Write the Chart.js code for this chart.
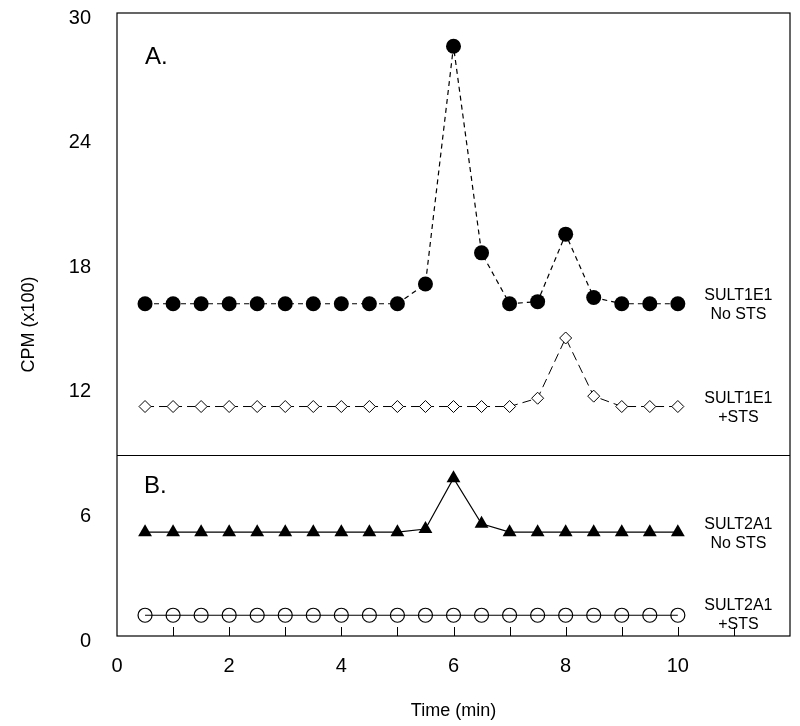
<!DOCTYPE html>
<html>
<head>
<meta charset="utf-8">
<title>CPM vs Time</title>
<script src="https://cdn.jsdelivr.net/npm/chart.js"></script>
<style>
html, body { margin: 0; padding: 0; background: #fff; }
canvas { display: block; }
</style>
</head>
<body>
<canvas id="cpmChart" width="800" height="726"></canvas>
<script>
// time points (min)
const times = [0.5, 1, 1.5, 2, 2.5, 3, 3.5, 4, 4.5, 5, 5.5, 6, 6.5, 7, 7.5, 8, 8.5, 9, 9.5, 10];
// CPM (x100)
const sult1e1NoSts = [16, 16, 16, 16, 16, 16, 16, 16, 16, 16, 16.95, 28.4, 18.45, 16, 16.1, 19.35, 16.3, 16, 16, 16];
const sult1e1Sts = [11.05, 11.05, 11.05, 11.05, 11.05, 11.05, 11.05, 11.05, 11.05, 11.05, 11.05, 11.05, 11.05, 11.05, 11.45, 14.35, 11.55, 11.05, 11.05, 11.05];
const sult2a1NoSts = [5, 5, 5, 5, 5, 5, 5, 5, 5, 5, 5.15, 7.6, 5.4, 5, 5, 5, 5, 5, 5, 5];
const sult2a1Sts = [1, 1, 1, 1, 1, 1, 1, 1, 1, 1, 1, 1, 1, 1, 1, 1, 1, 1, 1, 1];

const xTickLabels = [0, 2, 4, 6, 8, 10];
const yTickLabels = [0, 6, 12, 18, 24, 30];
const panelSplit = 8.7;

// side labels: [x, y, line1, line2]
const seriesLabels = [
  [11.08, 16, 'SULT1E1', 'No STS'],
  [11.08, 11.05, 'SULT1E1', '+STS'],
  [11.08, 5, 'SULT2A1', 'No STS'],
  [11.08, 1.1, 'SULT2A1', '+STS']
];
const panelLetters = [[0.5, 27.85, 'A.'], [0.48, 7.2, 'B.']];

const FONT = '"Liberation Sans", Arial, sans-serif';

function toPoints(ys) {
  return times.map((t, i) => ({ x: t, y: ys[i] }));
}

function noScalePadding(s) {
  s.paddingTop = 0;
  s.paddingBottom = 0;
  s.paddingLeft = 0;
  s.paddingRight = 0;
}

const framePlugin = {
  id: 'frame',
  afterDatasetsDraw(chart) {
    const { ctx, chartArea: a, scales } = chart;
    const xs = scales.x, ys = scales.y;
    ctx.save();
    ctx.strokeStyle = '#000';
    ctx.lineWidth = 1.2;
    ctx.strokeRect(a.left, a.top, a.right - a.left, a.bottom - a.top);

    // panel divider
    const yd = Math.round(ys.getPixelForValue(panelSplit)) + 0.5;
    ctx.beginPath();
    ctx.moveTo(a.left, yd);
    ctx.lineTo(a.right, yd);
    ctx.stroke();

    // inward tick marks along the bottom
    ctx.lineWidth = 1;
    for (let v = 1; v <= 11; v++) {
      const px = Math.round(xs.getPixelForValue(v)) + 0.5;
      ctx.beginPath();
      ctx.moveTo(px, a.bottom);
      ctx.lineTo(px, a.bottom - 9);
      ctx.stroke();
    }

    // series labels
    ctx.fillStyle = '#000';
    ctx.textAlign = 'center';
    ctx.textBaseline = 'middle';
    ctx.font = '16px ' + FONT;
    seriesLabels.forEach(([x, y, l1, l2]) => {
      const px = xs.getPixelForValue(x);
      const py = ys.getPixelForValue(y);
      ctx.fillText(l1, px, py - 8);
      ctx.fillText(l2, px, py + 11);
    });

    // panel letters
    ctx.textAlign = 'left';
    ctx.font = '24px ' + FONT;
    panelLetters.forEach(([x, y, t]) => {
      ctx.fillText(t, xs.getPixelForValue(x), ys.getPixelForValue(y));
    });
    ctx.restore();
  }
};

new Chart(document.getElementById('cpmChart').getContext('2d'), {
  type: 'line',
  data: {
    datasets: [
      {
        label: 'SULT1E1 No STS',
        data: toPoints(sult1e1NoSts),
        borderColor: '#000',
        borderWidth: 1.2,
        borderDash: [5, 4],
        pointStyle: 'circle',
        pointRadius: 7.5,
        pointBackgroundColor: '#000',
        pointBorderColor: '#000',
        pointBorderWidth: 0,
        tension: 0
      },
      {
        label: 'SULT1E1 +STS',
        data: toPoints(sult1e1Sts),
        borderColor: '#000',
        borderWidth: 1,
        borderDash: [9, 5],
        pointStyle: 'rectRot',
        pointRadius: 6,
        pointBackgroundColor: '#fff',
        pointBorderColor: '#000',
        pointBorderWidth: 1,
        tension: 0
      },
      {
        label: 'SULT2A1 No STS',
        data: toPoints(sult2a1NoSts),
        borderColor: '#000',
        borderWidth: 1.2,
        pointStyle: 'triangle',
        pointRadius: 8,
        pointBackgroundColor: '#000',
        pointBorderColor: '#000',
        pointBorderWidth: 0,
        tension: 0
      },
      {
        label: 'SULT2A1 +STS',
        data: toPoints(sult2a1Sts),
        borderColor: '#000',
        borderWidth: 1.2,
        pointStyle: 'circle',
        pointRadius: 7,
        pointBackgroundColor: 'rgba(0,0,0,0)',
        pointBorderColor: '#000',
        pointBorderWidth: 1.2,
        tension: 0
      }
    ]
  },
  options: {
    responsive: false,
    animation: false,
    layout: { padding: { top: 13, right: 10, left: 0, bottom: 0 } },
    plugins: {
      legend: { display: false },
      tooltip: { enabled: false }
    },
    scales: {
      x: {
        type: 'linear',
        min: 0,
        max: 12,
        afterBuildTicks: (s) => { s.ticks = xTickLabels.map(v => ({ value: v })); },
        grid: { display: false },
        border: { display: false },
        ticks: {
          color: '#000',
          font: { family: FONT, size: 20 },
          padding: 10,
          maxRotation: 0,
          autoSkip: false
        },
        title: {
          display: true,
          text: 'Time (min)',
          color: '#000',
          font: { family: FONT, size: 18 },
          padding: { top: 14 }
        },
        afterFit: (s) => { s.height = 90; noScalePadding(s); }
      },
      y: {
        type: 'linear',
        min: 0,
        max: 30,
        afterBuildTicks: (s) => { s.ticks = yTickLabels.map(v => ({ value: v })); },
        grid: { display: false },
        border: { display: false },
        ticks: {
          color: '#000',
          font: { family: FONT, size: 20 },
          padding: 18,
          labelOffset: 5,
          autoSkip: false
        },
        title: {
          display: true,
          text: 'CPM (x100)',
          color: '#000',
          font: { family: FONT, size: 18 },
          padding: { top: 18, bottom: 0 }
        },
        afterFit: (s) => { s.width = 117; noScalePadding(s); }
      }
    }
  },
  plugins: [framePlugin]
});
</script>
</body>
</html>
